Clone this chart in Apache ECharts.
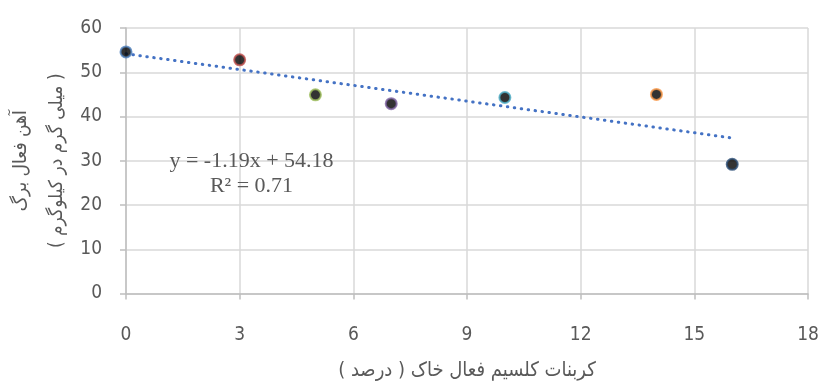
<!DOCTYPE html>
<html>
<head>
<meta charset="utf-8">
<script src="https://cdn.jsdelivr.net/npm/echarts@6/dist/echarts.min.js"></script>
<style>
  html, body { margin: 0; padding: 0; background: #ffffff; }
  #chart { width: 822px; height: 385px; }
</style>
</head>
<body>
<div id="chart"></div>
<script>
// Soil active calcium carbonate (%) vs. leaf active iron (mg/kg)
const calciumCarbonate = [0, 3, 5, 7, 10, 14, 16];
const leafIron = [54.6, 52.8, 44.9, 42.9, 44.3, 45.0, 29.2];
const pointBorderColors = ['#4F81BD', '#C0504D', '#9BBB59', '#8064A2', '#4BACC6', '#F79646', '#2C4D75'];

// Linear trend (as reported on the chart)
const slope = -1.19;
const intercept = 54.18;
const rSquared = 0.71;
const trendRange = [0, 16];

const xTicks = { min: 0, max: 18, interval: 3 };
const yTicks = { min: 0, max: 60, interval: 10 };

const xTitle = '\u200Fکربنات کلسیم فعال خاک ( درصد )\u200F';
const yTitle = '\u200Fآهن فعال برگ\u200F\n\u200F( میلی گرم در کیلوگرم )\u200F';

const numFont = "'Liberation Sans Narrow', 'DejaVu Sans Condensed', sans-serif";
const faFont = "'DejaVu Sans Condensed', 'DejaVu Sans', sans-serif";
const textGrey = '#595959';
const gridGrey = '#d9d9d9';
const axisGrey = '#bfbfbf';

const trendData = trendRange.map(x => [x, +(slope * x + intercept).toFixed(4)]);
const scatterData = calciumCarbonate.map((x, i) => ({
  value: [x, leafIron[i]],
  itemStyle: { color: '#000000', borderColor: pointBorderColors[i], borderWidth: 2 }
}));

const sign = intercept >= 0 ? '+' : '-';
const equationText = 'y = ' + slope.toFixed(2) + 'x ' + sign + ' ' + Math.abs(intercept).toFixed(2) +
  '\nR² = ' + rSquared.toFixed(2);

const chart = echarts.init(document.getElementById('chart'), null, { renderer: 'canvas' });
chart.setOption({
  animation: false,
  backgroundColor: '#ffffff',
  grid: { left: 126, right: 14, top: 28, bottom: 91.5, containLabel: false, outerBoundsMode: 'none' },
  xAxis: {
    type: 'value',
    min: xTicks.min, max: xTicks.max, interval: xTicks.interval,
    name: xTitle,
    nameLocation: 'middle',
    nameGap: 67,
    nameMoveOverlap: false,
    nameTextStyle: { fontFamily: faFont, fontSize: 20, color: textGrey },
    axisLine: { show: true, onZero: false, lineStyle: { color: axisGrey, width: 1.5 } },
    axisTick: { show: true, length: 6, lineStyle: { color: axisGrey, width: 1.5 } },
    axisLabel: { fontFamily: numFont, fontSize: 19, color: textGrey, margin: 32 },
    splitLine: { show: true, lineStyle: { color: gridGrey, width: 1.5 } }
  },
  yAxis: {
    type: 'value',
    min: yTicks.min, max: yTicks.max, interval: yTicks.interval,
    name: yTitle,
    nameLocation: 'middle',
    nameRotate: 90,
    nameGap: 51,
    nameMoveOverlap: false,
    nameTextStyle: { fontFamily: faFont, fontSize: 19, color: textGrey, lineHeight: 36, align: 'center' },
    axisLine: { show: true, onZero: false, lineStyle: { color: axisGrey, width: 1.5 } },
    axisTick: { show: true, length: 6, lineStyle: { color: axisGrey, width: 1.5 } },
    axisLabel: { fontFamily: numFont, fontSize: 19, color: textGrey, margin: 24 },
    splitLine: { show: true, lineStyle: { color: gridGrey, width: 1.5 } }
  },
  graphic: [{
    type: 'text',
    x: 251.5,
    y: 149,
    style: {
      text: equationText,
      font: "22px 'Liberation Serif', 'Times New Roman', serif",
      fill: textGrey,
      align: 'center',
      verticalAlign: 'top',
      lineHeight: 25
    },
    z: 10
  }],
  series: [
    {
      type: 'line',
      data: trendData,
      showSymbol: false,
      symbol: 'none',
      silent: true,
      z: 2,
      lineStyle: { color: '#4472C4', width: 3, type: [0.5, 6.5], cap: 'round' }
    },
    {
      type: 'scatter',
      data: scatterData,
      symbol: 'circle',
      symbolSize: 11,
      z: 3
    }
  ]
});
</script>
</body>
</html>
